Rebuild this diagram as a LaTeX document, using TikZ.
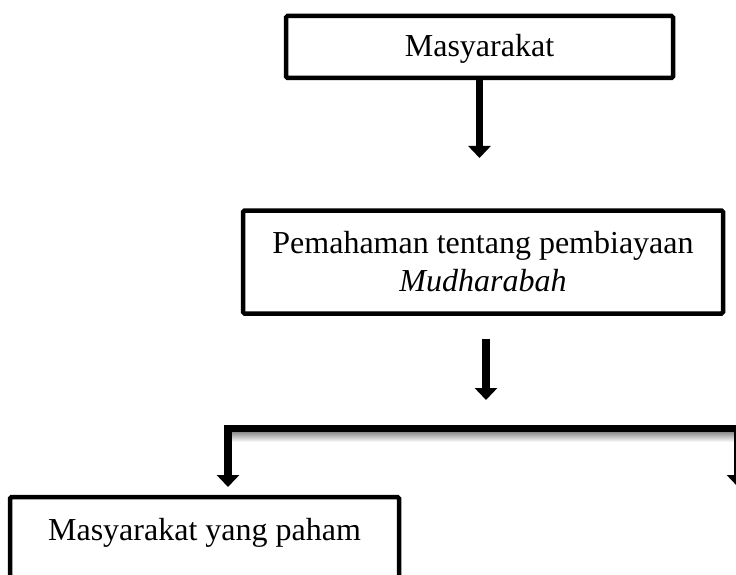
\documentclass[tikz,border=0pt]{standalone}
\usepackage{fontspec}
\setmainfont{Liberation Serif}
\usetikzlibrary{arrows.meta}
\begin{document}
\begin{tikzpicture}[x=1pt,y=1pt,
  box/.style={draw, line width=4.5pt, rounded corners=1.5pt, inner sep=0pt, outer sep=0pt,
    font=\fontsize{32}{38}\selectfont, align=center},
  flow/.style={line width=7.5pt, -{Triangle[width=22pt,length=12pt]}},
  forkline/.style={line width=7.5pt, line join=miter,
    {Triangle[width=22pt,length=12pt]}-{Triangle[width=22pt,length=12pt]}},
]
\useasboundingbox (0,0) rectangle (736,-575);
\clip (0,0) rectangle (736,-575);
\fill[white] (0,0) rectangle (736,-575);
\node[box, anchor=north, minimum width=387pt, text height=41pt, text depth=21pt] (b1)
  at (479.5,-16) {Masyarakat};
\node[box, minimum width=480pt, minimum height=103pt] (b2) at (483,-262)
  {Pemahaman tentang pembiayaan\\\textit{Mudharabah}};
\node[box, anchor=north, minimum width=389pt, text height=43pt, text depth=100pt] (b3)
  at (204.5,-497) {Masyarakat yang paham};
\coordinate (a1tip) at (480,-158);
\coordinate (split) at (486,-400);
\coordinate (tipL) at (228,-487);
\coordinate (tipR) at (738,-487);
\coordinate (bar) at (486,-428.5);
\draw[flow] (b1.south) -- (b1.south |- a1tip);
\draw[flow, shorten <=25pt] (split |- b2.south) -- (split);
\shade[top color=black!45, bottom color=white] (232,-432) rectangle (734,-442);
\draw[forkline] (tipL) -- (tipL |- bar) -- (tipR |- bar) -- (tipR);
\end{tikzpicture}
\end{document}
